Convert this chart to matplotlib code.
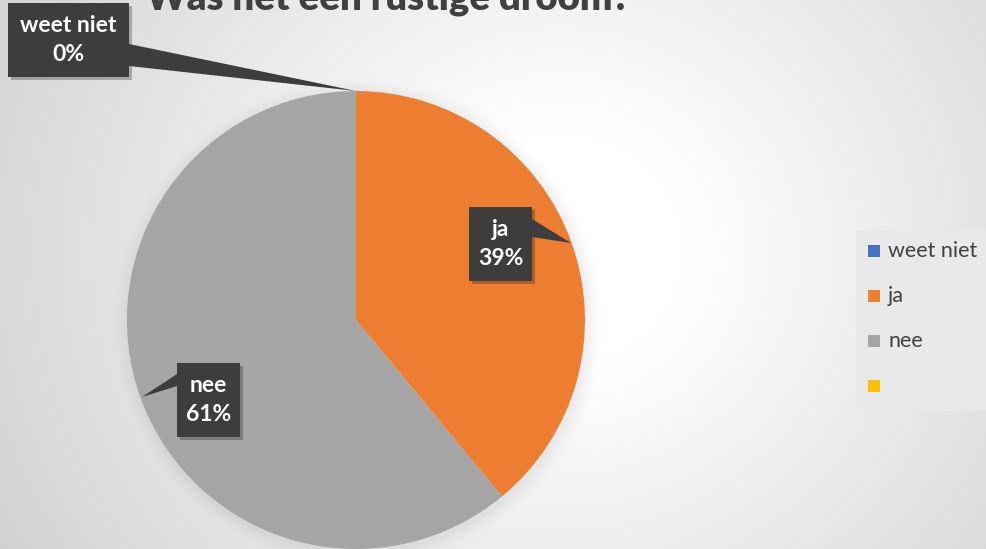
import matplotlib
matplotlib.use("Agg")
import matplotlib.pyplot as plt
import numpy as np
from matplotlib.patches import Polygon, Rectangle

W, H = 987, 549

categories = ["weet niet", "ja", "nee", ""]
values = [0, 39, 61, 0]
colors = ["#4472C4", "#ED7D31", "#A5A5A5", "#FFC000"]
title = "Was het een rustige droom?"
label_texts = ["weet niet\n0%", "ja\n39%", "nee\n61%"]

fig = plt.figure(figsize=(W / 100, H / 100), dpi=100)
ax = fig.add_axes([0, 0, 1, 1])

def py(y):
    return H - y

# radial gradient background
xx, yy = np.meshgrid(np.arange(W), np.arange(H))
r = np.sqrt(((xx - 560) / 1.0) ** 2 + ((yy - 250) / 0.95) ** 2)
t = np.clip((r - 120) / 560, 0, 1)
val = 1.0 - 0.19 * t
img = np.dstack([val, val, val])
ax.imshow(img, extent=[0, W, 0, H], origin="upper", zorder=0, aspect="auto")

# soft shadow around pie
cx, cy, R = 356, 320, 229
for i, a in enumerate(np.linspace(0.012, 0.002, 8)):
    c = plt.Circle((cx + 2, py(cy) - 3), R + 2 + i * 2.2, color="black", alpha=a, zorder=1, lw=0)
    ax.add_patch(c)

ax.pie(values, colors=colors, startangle=90, counterclock=False,
       center=(cx, py(cy)), radius=R, frame=True,
       wedgeprops=dict(linewidth=0, zorder=2))

def callout(box, tail, text):
    x0, y0, x1, y1 = box
    sh = Rectangle((x0 + 3, py(y1) - 3), x1 - x0, y1 - y0, color="black", alpha=0.25, lw=0, zorder=4)
    ax.add_patch(sh)
    ax.add_patch(Polygon([(x, py(y)) for x, y in tail], closed=True, color="#3d3d3d", lw=0, zorder=5))
    ax.add_patch(Rectangle((x0, py(y1)), x1 - x0, y1 - y0, facecolor="#3d3d3d", lw=0, zorder=5))
    ax.text((x0 + x1) / 2, py((y0 + y1) / 2), text, color="white", fontsize=16.5,
            fontweight="bold", family="Lato", ha="center", va="center",
            linespacing=1.5, zorder=6)

callout((8, 3, 129, 77), [(129, 44), (356, 91), (129, 66)], label_texts[0])
callout((469, 207, 532, 281), [(532, 219), (571, 243), (532, 237)], label_texts[1])
callout((177, 363, 240, 437), [(177, 374), (142, 397), (177, 386)], label_texts[2])

# title (cut off at the top, as in the reference)
ax.text(388, py(9), title, fontsize=27.5, fontweight="heavy", family="Lato",
        color="#404040", ha="center", va="baseline", zorder=6)

# legend
ax.add_patch(Rectangle((856, py(411)), 140, 181, facecolor="#e9e9e9", lw=0, zorder=3))
for i, (cat, col) in enumerate(zip(categories, colors)):
    yc = 251 + i * 45
    ax.add_patch(Rectangle((868, py(yc + 6)), 12, 12, facecolor=col, lw=0, zorder=4))
    ax.text(888, py(yc), cat, fontsize=15.5, family="Lato", color="#404040",
            ha="left", va="center", zorder=4)

ax.set_xlim(0, W)
ax.set_ylim(0, H)
ax.set_aspect("auto")
ax.axis("off")
fig.savefig("out.png", dpi=100)
